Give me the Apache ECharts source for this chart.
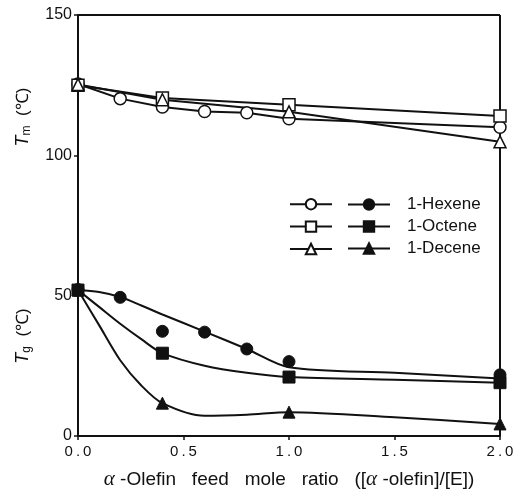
<!DOCTYPE html>
<html>
<head>
<meta charset="utf-8">
<script src="https://cdn.jsdelivr.net/npm/echarts@6/dist/echarts.min.js"></script>
<style>
  html, body { margin: 0; padding: 0; background: #fff; }
  #chart { width: 524px; height: 495px; }
</style>
</head>
<body>
<div id="chart"></div>
<script>
// measured points
const hexX = [0, 0.2, 0.4, 0.6, 0.8, 1.0, 2.0]
const hexTm = [125.4, 120.2, 117.2, 115.6, 115.2, 113, 110]
const hexTg = [52.2, 49.4, 37.3, 37, 31, 26.5, 21.8]
const octX = [0, 0.4, 1.0, 2.0]
const octTm = [125, 120.4, 118, 114]
const octTg = [52, 29.5, 21, 19]
const decX = [0, 0.4, 1.0, 2.0]
const decTm = [125.2, 119.8, 115.5, 104.8]
const decTg = [52, 11.7, 8.5, 4.3]

// hand drawn fit curves for Tg
const curveX = [0, 0.1, 0.2, 0.3, 0.4, 0.6, 0.8, 1.0, 1.5, 2.0]
const hexCurve = [52, 51.3, 49.5, 46.5, 43.3, 37.2, 31, 24.5, 22.5, 20.5]
const octCurve = [52, 46, 40, 34.5, 29.5, 25, 22.5, 21, 20, 19]
const decCurve = [52, 39.5, 27, 18, 11.7, 7.2, 7.6, 8.5, 6.7, 4.3]

const xTicks = ['0.0', '0.5', '1.0', '1.5', '2.0']
const yTicks = [0, 50, 100, 150]
const labels = ['1-Hexene', '1-Octene', '1-Decene']

const pair = (xs, ys) => xs.map((x, i) => [x, ys[i]])
const black = '#111'

const chart = echarts.init(document.getElementById('chart'))

const openSeries = (name, xs, ys, symbol) => ({
  name,
  type: 'line',
  data: pair(xs, ys),
  symbol,
  symbolSize: 12,
  lineStyle: { color: black, width: 2 },
  itemStyle: { color: '#fff', borderColor: black, borderWidth: 1.5 },
  z: 3,
})

const dotSeries = (name, xs, ys, symbol) => ({
  name,
  type: 'line',
  data: pair(xs, ys),
  symbol,
  symbolSize: 12,
  lineStyle: { width: 0, color: black },
  itemStyle: { color: black, borderColor: black, borderWidth: 1 },
  z: 4,
})

const curveSeries = ys => ({
  type: 'line',
  data: pair(curveX, ys),
  smooth: 0.3,
  showSymbol: false,
  lineStyle: { color: black, width: 2 },
  silent: true,
  z: 2,
})

const yName = sub => ({
  text: '{t|T}{s|' + sub + '}  (℃)', align: 'center', verticalAlign: 'middle',
  font: '17px "Liberation Sans"', fill: black,
  rich: {
    t: { fontFamily: 'Liberation Sans', fontStyle: 'italic', fontSize: 18, fill: black },
    s: { fontFamily: 'Liberation Sans', fontSize: 12, fill: black, padding: [8, 0, 0, 0] },
  },
})

const option = {
  backgroundColor: '#fff',
  animation: false,
  grid: { left: 78, right: 24, top: 15, bottom: 59, outerBoundsMode: 'none', containLabel: false },
  xAxis: {
    type: 'value',
    min: 0,
    max: 2,
    interval: 0.5,
    name: '{a|α} -Olefin   feed   mole   ratio   ([{a|α} -olefin]/[E])',
    nameLocation: 'middle',
    nameGap: 33,
    nameTextStyle: {
      fontFamily: 'Liberation Sans',
      fontSize: 19,
      color: black,
      rich: { a: { fontFamily: 'Liberation Serif', fontStyle: 'italic', fontSize: 21, color: black } },
    },
    axisLine: { show: true, lineStyle: { color: black, width: 2 } },
    axisTick: { show: true, length: 4, lineStyle: { color: black, width: 1.5 } },
    splitLine: { show: false },
    axisLabel: {
      margin: 8,
      fontFamily: 'Liberation Sans',
      fontSize: 15,
      color: black,
      formatter: v => xTicks[Math.round(v / 0.5)].split('').join('\u2009'),
    },
  },
  yAxis: {
    type: 'value',
    min: 0,
    max: 150,
    interval: 50,
    axisLine: { show: true, lineStyle: { color: black, width: 2 } },
    axisTick: { show: true, length: 4, lineStyle: { color: black, width: 1.5 } },
    splitLine: { show: false },
    axisLabel: {
      margin: 6,
      fontFamily: 'Liberation Sans',
      fontSize: 16,
      color: black,
      formatter: v => (yTicks.includes(v) ? String(v) : ''),
    },
  },
  graphic: [
    // box top and right edges
    { type: 'line', shape: { x1: 78, y1: 15, x2: 500, y2: 15 }, style: { stroke: black, lineWidth: 2 } },
    { type: 'line', shape: { x1: 500, y1: 15, x2: 500, y2: 436 }, style: { stroke: black, lineWidth: 2 } },
    { type: 'text', x: 23, y: 117, rotation: Math.PI / 2, style: yName('m') },
    { type: 'text', x: 23, y: 336, rotation: Math.PI / 2, style: yName('g') },
  ],
  legend: [
    {
      left: 284,
      top: 193,
      orient: 'vertical',
      itemWidth: 42,
      itemHeight: 13,
      itemGap: 10,
      formatter: () => '',
      data: ['Hexene Tm', 'Octene Tm', 'Decene Tm'],
      textStyle: { fontSize: 1, lineHeight: 1 },
    },
    {
      left: 342,
      top: 191,
      orient: 'vertical',
      itemWidth: 42,
      itemHeight: 13,
      itemGap: 5,
      data: labels.map(name => ({ name, lineStyle: { width: 2, color: black } })),
      textStyle: {
        fontFamily: 'Liberation Sans',
        fontSize: 17,
        color: black,
        padding: [0, 0, 0, 12],
      },
    },
  ],
  series: [
    openSeries('Hexene Tm', hexX, hexTm, 'circle'),
    openSeries('Octene Tm', octX, octTm, 'rect'),
    openSeries('Decene Tm', decX, decTm, 'triangle'),
    curveSeries(hexCurve),
    curveSeries(octCurve),
    curveSeries(decCurve),
    dotSeries(labels[0], hexX, hexTg, 'circle'),
    dotSeries(labels[1], octX, octTg, 'rect'),
    dotSeries(labels[2], decX, decTg, 'triangle'),
  ],
}

chart.setOption(option)
</script>
</body>
</html>
